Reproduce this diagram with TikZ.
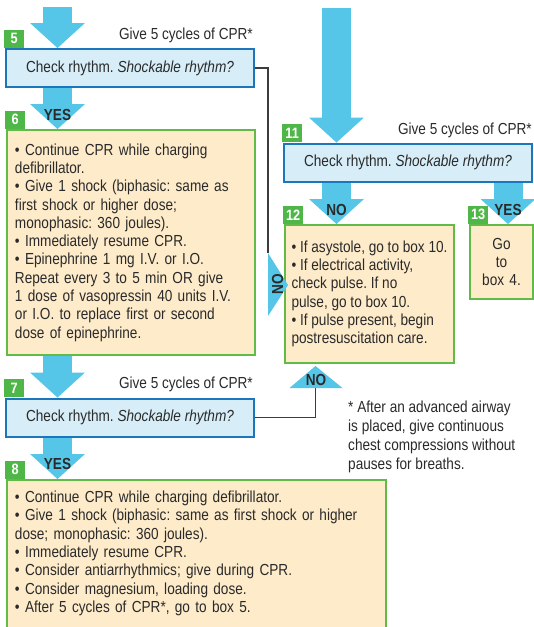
\documentclass[tikz,border=0pt]{standalone}
\usepackage{fontspec}
\setmainfont{Liberation Sans}[FakeStretch=0.85]
\frenchspacing
\usetikzlibrary{arrows.meta,positioning,calc,backgrounds}
\definecolor{arrowc}{HTML}{55C6E7}
\definecolor{rhyblue}{HTML}{1C76BC}
\definecolor{rhyfill}{HTML}{D7EEF8}
\definecolor{actgreen}{HTML}{62BB47}
\definecolor{actfill}{HTML}{FDEBCA}
\definecolor{tagg}{HTML}{4FB748}
\definecolor{wirec}{HTML}{3C3C3C}
\definecolor{ink}{HTML}{2A2A2A}
\tikzset{
  chk/.style={draw=rhyblue,line width=2pt,fill=rhyfill,minimum width=248pt,minimum height=38pt,inner sep=0pt},
  act/.style={draw=actgreen,line width=2pt,fill=actfill,align=left,inner xsep=9pt,inner ysep=0pt,anchor=north west},
  tag/.style={fill=tagg,text=white,font=\bfseries\fontsize{15}{15}\selectfont,minimum width=20pt,minimum height=18pt,inner sep=0pt,anchor=south west,xshift=-1pt},
  fat/.style={draw=arrowc,line width=29pt,-{Triangle[length=25pt,width=55pt,line width=0pt]}},
  wire/.style={draw=wirec,line width=1.3pt},
  lbl/.style={inner sep=0pt,anchor=base,font=\bfseries\fontsize{16}{16}\selectfont},
  give/.style={inner sep=0pt,anchor=base east,font=\fontsize{16}{16}\selectfont},
  note/.style={inner sep=0pt,anchor=north west,align=left,font=\fontsize{16}{18.8}\selectfont},
}
\begin{document}
\begin{tikzpicture}[x=1pt,y=-1pt,font=\fontsize{16}{18.3}\selectfont,text=ink]
  \useasboundingbox (0,0) rectangle (534,627);
  \clip (0,0) rectangle (534,627);
  \node[chk] (c5) at (130,68) {Check rhythm. \textit{Shockable rhythm?}};
  \node[tag] (t5) at (c5.north west) {5};
  \node[give] (g5) at ($(c5.north east)+(-2pt,9pt)$) {Give 5 cycles of CPR*};
  \node[act,text width=232pt,inner xsep=8pt,minimum height=225pt] (c6) at (6,129) {• Continue CPR while charging\\defibrillator.\\• Give 1 shock (biphasic: same as\\first shock or higher dose;\\monophasic: 360 joules).\\• Immediately resume CPR.\\• Epinephrine 1 mg I.V. or I.O.\\Repeat every 3 to 5 min OR give\\1 dose of vasopressin 40 units I.V.\\or I.O. to replace first or second\\dose of epinephrine.};
  \node[tag] (t6) at (c6.north west) {6};
  \node[chk] (c7) at (130,417.5) {Check rhythm. \textit{Shockable rhythm?}};
  \node[tag] (t7) at (c7.north west) {7};
  \node[give] (g7) at ($(c7.north east)+(-2pt,9pt)$) {Give 5 cycles of CPR*};
  \node[act,text width=363pt,inner xsep=8pt,inner ysep=11pt] (c8) at (6,479) {• Continue CPR while charging defibrillator.\\• Give 1 shock (biphasic: same as first shock or higher\\dose; monophasic: 360 joules).\\• Immediately resume CPR.\\• Consider antiarrhythmics; give during CPR.\\• Consider magnesium, loading dose.\\• After 5 cycles of CPR*, go to box 5.\rule[-22pt]{0pt}{22pt}};
  \node[tag] (t8) at (c8.north west) {8};
  \node[chk] (c11) at (408,162.5) {Check rhythm. \textit{Shockable rhythm?}};
  \node[tag] (t11) at (c11.north west) {11};
  \node[give] (g11) at ($(c11.north east)+(-1pt,8pt)$) {Give 5 cycles of CPR*};
  \node[act,inner xsep=0pt,minimum width=169pt,minimum height=138pt] (c12) at (284,224) {• If asystole, go to box 10.\\• If electrical activity,\\check pulse. If no\\pulse, go to box 10.\\• If pulse present, begin\\postresuscitation care.};
  \node[tag] (t12) at (c12.north west) {12};
  \node[act,align=center,text width=45pt,minimum height=74pt] (c13) at (469,224) {Go\\to\\box 4.};
  \node[tag] (t13) at (c13.north west) {13};
  \node[note] (fn) at (348,401) {* After an advanced airway\\is placed, give continuous\\chest compressions without\\pauses for breaths.};
  \coordinate (s5) at (57.5,7);
  \coordinate (s11) at (336.5,8);
  \coordinate (s13) at (508,0);
  \coordinate (n12) at (268,253);
  \coordinate (n7) at (315.5,388);
  \begin{scope}[on background layer]
    \draw[fat] (s5) -- (s5 |- c5.north);
    \draw[fat] (c5.south -| s5) -- (c6.north -| s5);
    \draw[fat] (c6.south -| s5) -- (c7.north -| s5);
    \draw[fat] (c7.south -| s5) -- (c8.north -| s5);
    \draw[fat] (s11) -- (s11 |- c11.north);
    \draw[fat] (c11.south -| s11) -- (c12.north -| s11);
    \draw[fat] (c11.south -| s13) -- (c13.north -| s13);
  \end{scope}
  \draw[wire] (c5.east) -| (n12);
  \draw[wire] (c7.east) -| (n7);
  \fill[arrowc] (n12) -- ++(0,63) -- ++(20,-31) -- cycle;
  \fill[arrowc] (n7) ++(-26,0) -- ++(53,0) -- ++(-27,-22) -- cycle;
  \node[lbl] (y6) at ($(c6.north -| s5)+(0pt,9pt)$) {YES};
  \node[lbl] (y8) at ($(c8.north -| s5)+(0pt,10pt)$) {YES};
  \node[lbl] (no12) at ($(c12.north -| s11)+(0pt,9pt)$) {NO};
  \node[lbl] (y13) at ($(c13.north -| s13)+(0pt,9pt)$) {YES};
  \node[lbl,rotate=90] (no5) at (283,284) {NO};
  \node[lbl] (no7) at (316,385) {NO};
\end{tikzpicture}
\end{document}
